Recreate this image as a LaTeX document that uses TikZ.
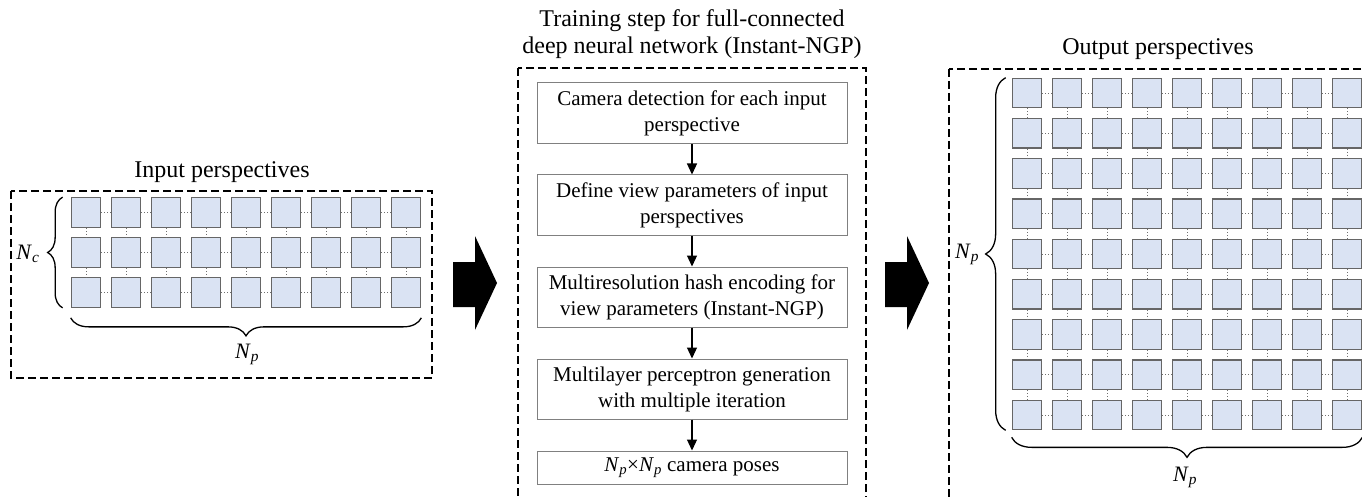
\documentclass[tikz,border=0pt]{standalone}
\usepackage{fontspec}
\setmainfont{Liberation Serif}
\usetikzlibrary{arrows.meta,decorations.pathreplacing}
\definecolor{cellfill}{HTML}{DAE3F3}
\definecolor{cellline}{HTML}{666666}
\definecolor{boxline}{HTML}{808080}
\definecolor{linkgray}{HTML}{707070}
\tikzset{
  cell/.style={draw=cellline, fill=cellfill, line width=1.2pt, minimum size=29.5pt, inner sep=0pt},
  link/.style={draw=linkgray, line width=0.9pt, dash pattern=on 1pt off 2pt},
  panel/.style={draw=black, line width=1.2pt, dash pattern=on 8pt off 4pt},
  stepbox/.style={draw=boxline, line width=1pt, minimum width=310pt, align=center, inner sep=0pt,
                  font=\fontsize{21}{26}\selectfont},
  flow/.style={line width=1.2pt, -{Triangle[length=11pt,width=10pt]}},
  curly/.style={decorate, decoration={brace, amplitude=#1}, line width=1.3pt},
  title/.style={font=\fontsize{24}{27}\selectfont, align=center, inner sep=0pt},
  sym/.style={font=\fontsize{22}{22}\selectfont, inner sep=0pt},
  bigarrow/.style={fill=black}
}
\newcommand{\Np}{\textit{N}\textsubscript{\textit{p}}}
\newcommand{\Nc}{\textit{N}\textsubscript{\textit{c}}}
\begin{document}
\begin{tikzpicture}[x=1pt, y=-1pt]
  \useasboundingbox (0,0) rectangle (1362,497);
  \clip (0,0) rectangle (1362,497);

  % ---------- input perspectives ----------
  \node[title] (intitle) at (222,172) {Input perspectives};
  \draw[panel] (11,191) rectangle (432,378);
  \foreach \r in {0,1,2}
    \foreach \c in {0,...,8}
      \node[cell] (L\r-\c) at (86+40*\c, 212.5+40*\r) {};
  \foreach \r in {0,1,2}
    \foreach \c [count=\n from 1] in {0,...,7}
      \draw[link] (L\r-\c) -- (L\r-\n);
  \foreach \r [count=\n from 1] in {0,1}
    \foreach \c in {0,...,8}
      \draw[link] (L\r-\c) -- (L\n-\c);
  \draw[curly=15pt] ([xshift=-8pt]L2-0.south west) -- ([xshift=-8pt]L0-0.north west);
  \node[sym] (nc) at (28,254) {\Nc};
  \draw[curly=18pt] ([yshift=-10pt]L2-8.south east) -- ([yshift=-10pt]L2-0.south west);
  \node[sym] (npin) at (247,354) {\Np};

  % ---------- arrows between the panels ----------
  \fill[bigarrow] (453,262) -- (475,262) -- (475,236) -- (497,283) -- (475,330) -- (475,307) -- (453,307) -- cycle;
  \fill[bigarrow] (885,262) -- (907,262) -- (907,236) -- (929,283) -- (907,330) -- (907,307) -- (885,307) -- cycle;

  % ---------- training steps ----------
  \node[title] (midtitle) at (692,34) {Training step for full-connected\\deep neural network (Instant-NGP)};
  \draw[panel] (518,68) rectangle (866,520);
  \node[stepbox, minimum height=61pt] (s1) at (692,113.5) {Camera detection for each input\\perspective};
  \node[stepbox, minimum height=60pt] (s2) at (692,205) {Define view parameters of input\\perspectives};
  \node[stepbox, minimum height=60pt] (s3) at (692,297) {Multiresolution hash encoding for\\view parameters (Instant-NGP)};
  \node[stepbox, minimum height=60pt] (s4) at (692,389) {Multilayer perceptron generation\\with multiple iteration};
  \node[stepbox, minimum height=33pt] (s5) at (692,467.5) {\Np×\Np{} camera poses};
  \draw[flow] (s1) -- (s2);
  \draw[flow] (s2) -- (s3);
  \draw[flow] (s3) -- (s4);
  \draw[flow] (s4) -- (s5);

  % ---------- output perspectives ----------
  \node[title] (outtitle) at (1158,49) {Output perspectives};
  \draw[panel] (949,69) rectangle (1400,520);
  \foreach \r in {0,...,8}
    \foreach \c in {0,...,8}
      \node[cell] (R\r-\c) at (1027+40*\c, 93+40.25*\r) {};
  \foreach \r in {0,...,8}
    \foreach \c [count=\n from 1] in {0,...,7}
      \draw[link] (R\r-\c) -- (R\r-\n);
  \foreach \r [count=\n from 1] in {0,...,7}
    \foreach \c in {0,...,8}
      \draw[link] (R\r-\c) -- (R\n-\c);
  \draw[curly=20pt] ([xshift=-6pt]R8-0.south west) -- ([xshift=-6pt]R0-0.north west);
  \node[sym] (npleft) at (967,254) {\Np};
  \draw[curly=20pt] ([yshift=-7pt]R8-8.south east) -- ([yshift=-7pt]R8-0.south west);
  \node[sym] (npout) at (1185,477) {\Np};
\end{tikzpicture}
\end{document}
